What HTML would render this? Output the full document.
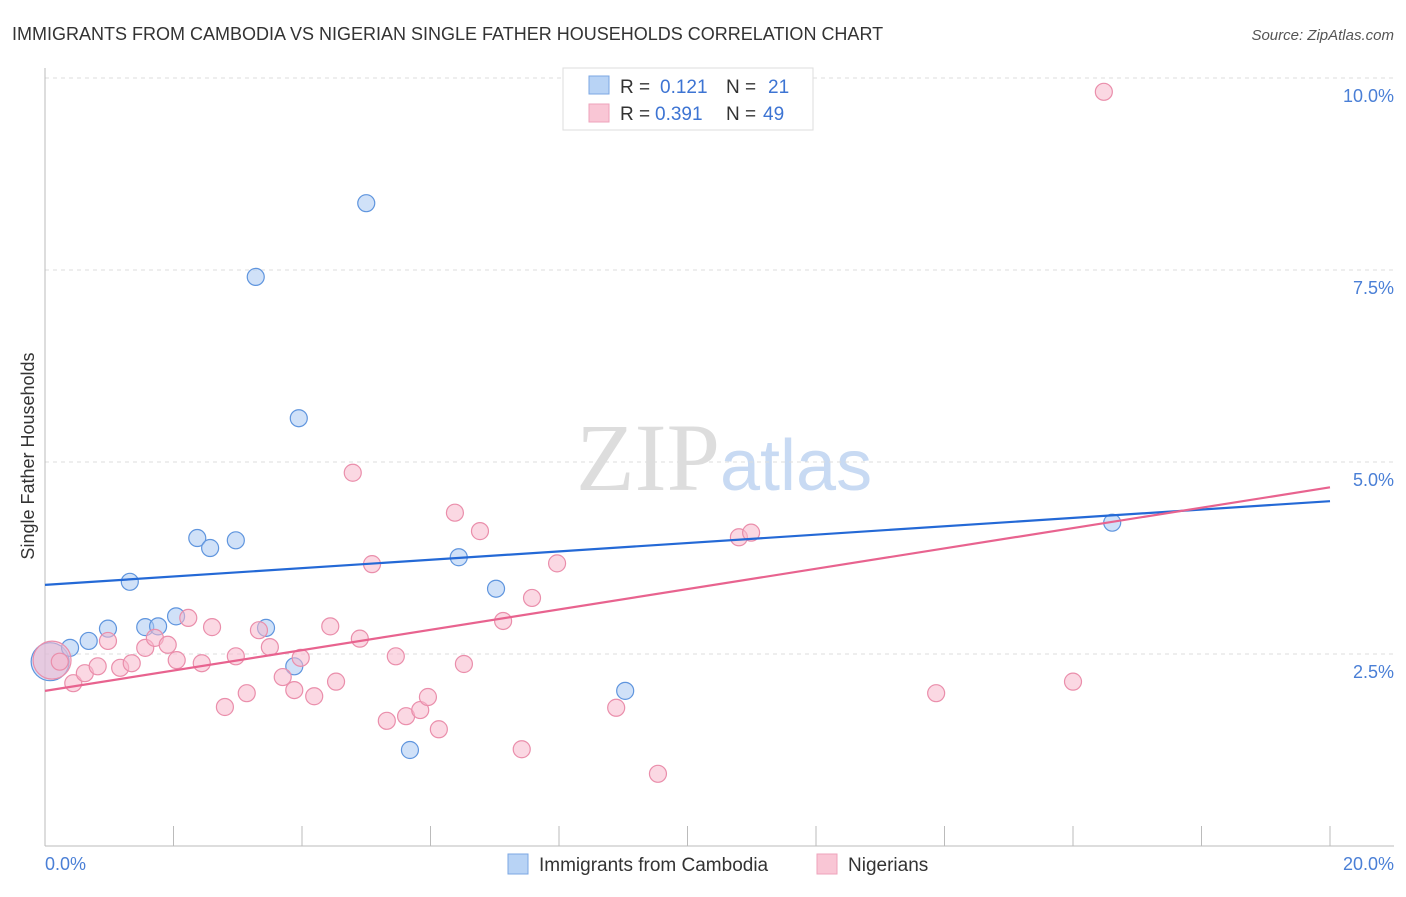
<!DOCTYPE html>
<html><head><meta charset="utf-8"><style>
body{margin:0;background:#fff;font-family:"Liberation Sans",sans-serif;}
</style></head><body>
<svg width="1406" height="892" xmlns="http://www.w3.org/2000/svg" style="font-family:'Liberation Sans',sans-serif">
<text x="12" y="40" font-size="18" fill="#333">IMMIGRANTS FROM CAMBODIA VS NIGERIAN SINGLE FATHER HOUSEHOLDS CORRELATION CHART</text>
<text x="1394" y="40" font-size="15" fill="#555" font-style="italic" text-anchor="end">Source: ZipAtlas.com</text>
<text x="720" y="490" font-size="96" fill="#ddd" text-anchor="end" font-family="Liberation Serif">ZIP</text>
<text x="720" y="490" font-size="72" fill="#c8daf3">atlas</text>
<g id="grid"></g>
<g id="axes"></g>
<g id="pts"></g>
<g id="lines"></g>
<text x="34" y="456" font-size="18" fill="#333" text-anchor="middle" transform="rotate(-90 34 456)">Single Father Households</text>
<text x="45" y="870" font-size="18" fill="#4a7fd6">0.0%</text>
<text x="1394" y="870" font-size="18" fill="#4a7fd6" text-anchor="end">20.0%</text>
<g>
<rect x="563" y="68" width="250" height="62" fill="#fff" stroke="#ddd"/>
<rect x="589" y="76" width="20" height="18" fill="#b8d3f5" stroke="#7ba7e3"/>
<rect x="589" y="104" width="20" height="18" fill="#f9c6d5" stroke="#eea3bb"/>
<text x="620" y="93" font-size="19" fill="#333">R = </text><text x="660" y="93" font-size="19" fill="#3d74d3">0.121</text>
<text x="726" y="93" font-size="19" fill="#333">N = </text><text x="768" y="93" font-size="19" fill="#3d74d3">21</text>
<text x="620" y="120" font-size="19" fill="#333">R = </text><text x="655" y="120" font-size="19" fill="#3d74d3">0.391</text>
<text x="726" y="120" font-size="19" fill="#333">N = </text><text x="763" y="120" font-size="19" fill="#3d74d3">49</text>
</g>
<g>
<rect x="508" y="854" width="20" height="20" fill="#b8d3f5" stroke="#7ba7e3"/>
<text x="539" y="871" font-size="19" fill="#333">Immigrants from Cambodia</text>
<rect x="817" y="854" width="20" height="20" fill="#f9c6d5" stroke="#eea3bb"/>
<text x="848" y="871" font-size="19" fill="#333">Nigerians</text>
</g>
</svg>
<script>
const yTicks=[2.5,5.0,7.5,10.0];
const yTickLabels=["2.5%","5.0%","7.5%","10.0%"];
const xTicks=[0,2,4,6,8,10,12,14,16,18,20];
const blueX=[0.08,0.39,0.68,0.98,1.32,1.56,1.76,2.04,2.37,2.57,2.97,3.28,3.44,3.88,3.95,5.00,5.68,6.44,7.02,9.03,16.61];
const blueY=[2.40,2.58,2.67,2.83,3.44,2.85,2.86,2.99,4.01,3.88,3.98,7.41,2.84,2.34,5.57,8.37,1.25,3.76,3.35,2.02,4.21];
const pinkX=[16.48,0.11,0.23,0.44,0.62,0.82,0.98,1.17,1.35,1.56,1.71,1.91,2.05,2.23,2.44,2.60,2.80,2.97,3.14,3.33,3.50,3.70,3.88,3.98,4.19,4.44,4.53,4.79,4.90,5.09,5.32,5.46,5.62,5.84,5.96,6.13,6.38,6.52,6.77,7.13,7.42,7.58,7.97,8.89,9.54,10.80,10.99,13.87,16.00];
const pinkY=[9.82,2.42,2.40,2.12,2.25,2.34,2.67,2.32,2.38,2.58,2.71,2.62,2.42,2.97,2.38,2.85,1.81,2.47,1.99,2.81,2.59,2.20,2.03,2.45,1.95,2.86,2.14,4.86,2.70,3.67,1.63,2.47,1.69,1.77,1.94,1.52,4.34,2.37,4.10,2.93,1.26,3.23,3.68,1.80,0.94,4.02,4.08,1.99,2.14];
const blueTrend=[3.40,4.49];
const pinkTrend=[2.02,4.67];
const NS="http://www.w3.org/2000/svg";
const X=v=>45+v/20*1285, Y=v=>846-v/2.5*192;
function mk(tag,attrs,parent){const e=document.createElementNS(NS,tag);for(const k in attrs)e.setAttribute(k,attrs[k]);document.getElementById(parent).appendChild(e);return e;}
yTicks.forEach((t,i)=>{
 const l=mk('line',{x1:45,x2:1394,y1:Y(t),y2:Y(t),stroke:'#ddd','stroke-dasharray':'4,4'},'grid');
 
 
 const tx=mk('text',{x:1394,y:Y(t)+24,'font-size':18,fill:'#4a7fd6','text-anchor':'end'},'grid');
 tx.textContent=yTickLabels[i];
 
 
});
const ax=mk('line',{x1:45,x2:45,y1:68,y2:846,stroke:'#bbb'},'axes');


const bx=mk('line',{x1:45,x2:1394,y1:846,y2:846,stroke:'#bbb'},'axes');


xTicks.forEach(t=>{
 const l=mk('line',{x1:X(t),x2:X(t),y1:826,y2:846,stroke:'#bbb'},'axes');
 
 
});
function dots(xs,ys,fill,stroke,name){xs.forEach((x,i)=>{
 const big=(x<0.15&&Math.abs(ys[i]-2.41)<0.05);
 const c=mk('circle',{cx:X(x),cy:Y(ys[i]),r:big?19:8.5,fill:fill,'fill-opacity':0.55,stroke:stroke,'stroke-width':1.2},'pts');
 
 
});}
dots(blueX,blueY,'#a9c8f2','#5f95de','point-cambodia');
dots(pinkX,pinkY,'#f7b8cc','#ea8eab','point-nigerians');
const bl=mk('line',{x1:X(0),y1:Y(blueTrend[0]),x2:X(20),y2:Y(blueTrend[1]),stroke:'#2469d6','stroke-width':2.2},'lines');


const pl=mk('line',{x1:X(0),y1:Y(pinkTrend[0]),x2:X(20),y2:Y(pinkTrend[1]),stroke:'#e8638f','stroke-width':2.2},'lines');


</script>
</body></html>
